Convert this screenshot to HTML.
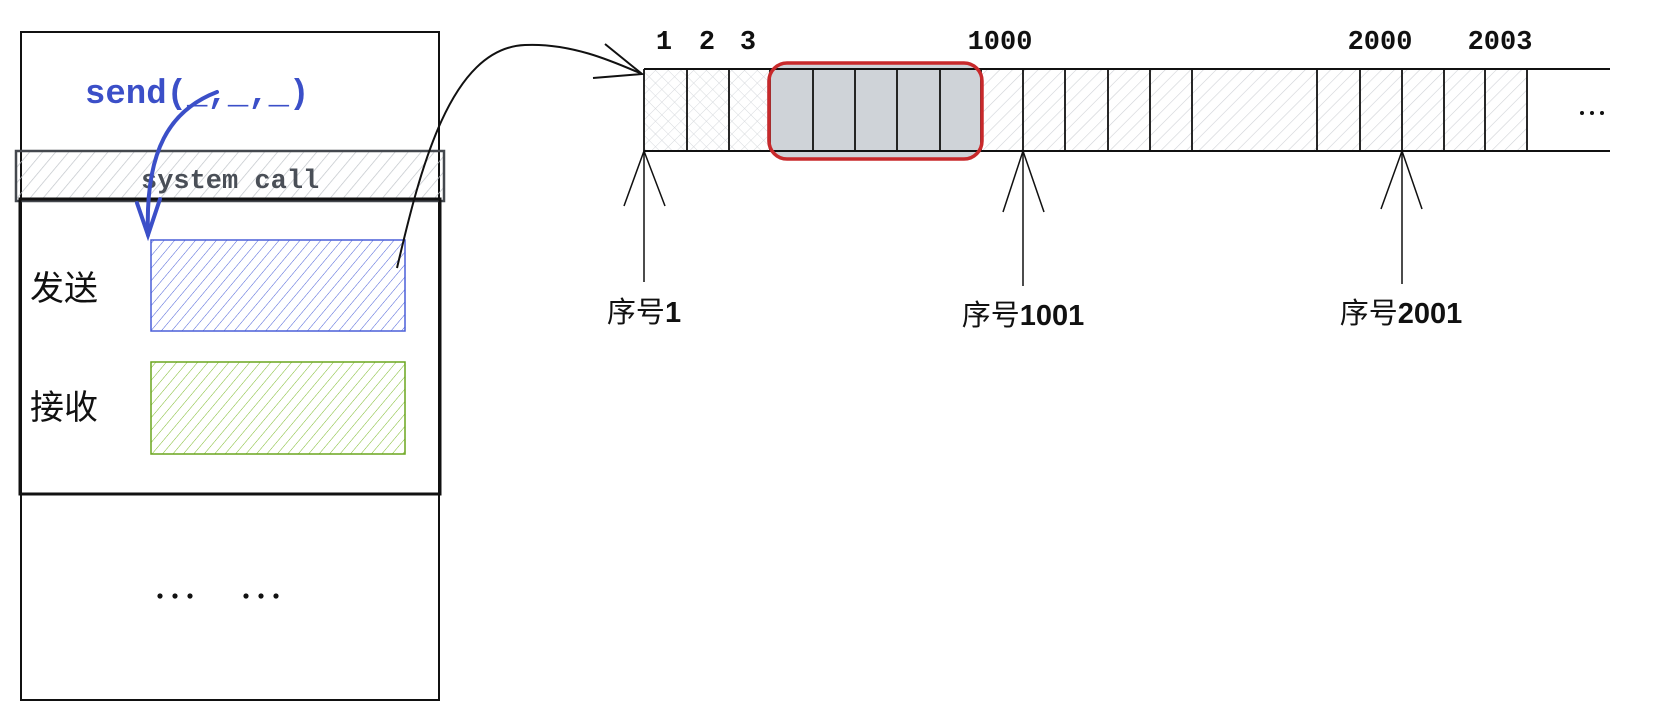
<!DOCTYPE html>
<html><head><meta charset="utf-8"><style>
html,body{margin:0;padding:0;background:#fff;width:1659px;height:719px;overflow:hidden}
svg{display:block}
.m{font-family:"Liberation Mono","DejaVu Sans Mono",monospace;font-weight:bold}
.c{font-family:"Liberation Sans","Noto Sans CJK SC",sans-serif}
</style></head><body>
<svg width="1659" height="719" viewBox="0 0 1659 719" xmlns="http://www.w3.org/2000/svg">
<defs>
<pattern id="hg" width="9" height="9" patternUnits="userSpaceOnUse" patternTransform="rotate(45)"><line x1="0" y1="0" x2="0" y2="9" stroke="#cfd2d6" stroke-width="1.2"/></pattern>
<pattern id="hx" width="9" height="9" patternUnits="userSpaceOnUse" patternTransform="rotate(45)"><line x1="0" y1="0" x2="0" y2="9" stroke="#d6d9dd" stroke-width="1"/><line x1="0" y1="0" x2="9" y2="0" stroke="#d6d9dd" stroke-width="1"/></pattern>
<pattern id="hb" width="8" height="8" patternUnits="userSpaceOnUse" patternTransform="rotate(40)"><line x1="0" y1="0" x2="0" y2="8" stroke="#4a5fd8" stroke-width="1"/></pattern>
<pattern id="hgr" width="8" height="8" patternUnits="userSpaceOnUse" patternTransform="rotate(40)"><line x1="0" y1="0" x2="0" y2="8" stroke="#7cba2a" stroke-width="1"/></pattern>
<pattern id="hs" width="10" height="10" patternUnits="userSpaceOnUse" patternTransform="rotate(40)"><line x1="0" y1="0" x2="0" y2="10" stroke="#c0c4c9" stroke-width="1.4"/></pattern>
</defs>

<rect x="21" y="32" width="418" height="668" fill="none" stroke="#111" stroke-width="2"/>
<rect x="16" y="151" width="428" height="50" fill="url(#hs)" stroke="#44484e" stroke-width="2.5"/>
<rect x="20" y="199" width="420" height="295" fill="none" stroke="#111" stroke-width="3"/>
<text x="85" y="103" class="m" font-size="34" fill="#3b4fc8">send(_,_,_)</text>
<text x="141" y="188" class="m" font-size="27" fill="#4a4f57">system call</text>
<rect x="151" y="240" width="254" height="91" fill="url(#hb)" stroke="#4a5fd8" stroke-width="1.5"/>
<rect x="151" y="362" width="254" height="92" fill="url(#hgr)" stroke="#6aa51e" stroke-width="1.5"/>
<text x="30" y="300" class="c" font-size="34" fill="#111">发送</text>
<text x="30" y="419" class="c" font-size="34" fill="#111">接收</text>
<g fill="#111"><circle cx="160" cy="596" r="2.6"/><circle cx="175" cy="596" r="2.6"/><circle cx="190" cy="596" r="2.6"/><circle cx="246" cy="596" r="2.6"/><circle cx="261" cy="596" r="2.6"/><circle cx="276" cy="596" r="2.6"/></g>
<path d="M217,92 C170,110 145,150 148,235" fill="none" stroke="#3b4fc8" stroke-width="4" stroke-linecap="round"/>
<path d="M137,203 L148,235 L160,199" fill="none" stroke="#3b4fc8" stroke-width="4" stroke-linecap="round"/>
<path d="M397,268 C420,170 450,48 525,45 C570,43 610,60 642,74" fill="none" stroke="#111" stroke-width="2"/>
<path d="M605,44 L642,74 L593,78" fill="none" stroke="#111" stroke-width="2"/>

<rect x="644" y="69" width="126" height="82" fill="url(#hx)"/>
<rect x="770" y="69" width="757" height="82" fill="url(#hg)"/>
<rect x="767" y="63" width="216" height="96" rx="18" fill="#cfd3d8"/>
<line x1="644" y1="69" x2="1610" y2="69" stroke="#111" stroke-width="2"/>
<line x1="644" y1="151" x2="1610" y2="151" stroke="#111" stroke-width="2"/>
<g stroke="#111" stroke-width="1.8">
<line x1="644" y1="69" x2="644" y2="151"/><line x1="687" y1="69" x2="687" y2="151"/><line x1="729" y1="69" x2="729" y2="151"/><line x1="770" y1="69" x2="770" y2="151"/><line x1="813" y1="69" x2="813" y2="151"/><line x1="855" y1="69" x2="855" y2="151"/><line x1="897" y1="69" x2="897" y2="151"/><line x1="940" y1="69" x2="940" y2="151"/><line x1="981" y1="69" x2="981" y2="151"/><line x1="1023" y1="69" x2="1023" y2="151"/><line x1="1065" y1="69" x2="1065" y2="151"/><line x1="1108" y1="69" x2="1108" y2="151"/><line x1="1150" y1="69" x2="1150" y2="151"/><line x1="1192" y1="69" x2="1192" y2="151"/><line x1="1317" y1="69" x2="1317" y2="151"/><line x1="1360" y1="69" x2="1360" y2="151"/><line x1="1402" y1="69" x2="1402" y2="151"/><line x1="1444" y1="69" x2="1444" y2="151"/><line x1="1485" y1="69" x2="1485" y2="151"/><line x1="1527" y1="69" x2="1527" y2="151"/>
</g>
<rect x="769" y="63" width="213" height="96" rx="18" fill="none" stroke="#c8292b" stroke-width="3.5"/>
<g fill="#111"><circle cx="1582" cy="113" r="2"/><circle cx="1592" cy="113" r="2"/><circle cx="1602" cy="113" r="2"/></g>
<g class="m" font-size="27" fill="#111" text-anchor="middle">
<text x="664" y="49">1</text><text x="707" y="49">2</text><text x="748" y="49">3</text>
<text x="1000" y="49">1000</text><text x="1380" y="49">2000</text><text x="1500" y="49">2003</text>
</g>
<g stroke="#111" stroke-width="1.5" fill="none">
<line x1="644" y1="151" x2="644" y2="282"/><path d="M624,206 L644,151 L665,206"/>
<line x1="1023" y1="151" x2="1023" y2="286"/><path d="M1003,212 L1023,151 L1044,212"/>
<line x1="1402" y1="151" x2="1402" y2="284"/><path d="M1381,209 L1402,151 L1422,209"/>
</g>
<g font-size="29" fill="#111" text-anchor="middle" class="c" font-weight="bold">
<text x="644" y="322"><tspan font-weight="normal">序号</tspan>1</text>
<text x="1023" y="325"><tspan font-weight="normal">序号</tspan>1001</text>
<text x="1401" y="323"><tspan font-weight="normal">序号</tspan>2001</text>
</g>
</svg>
</body></html>
